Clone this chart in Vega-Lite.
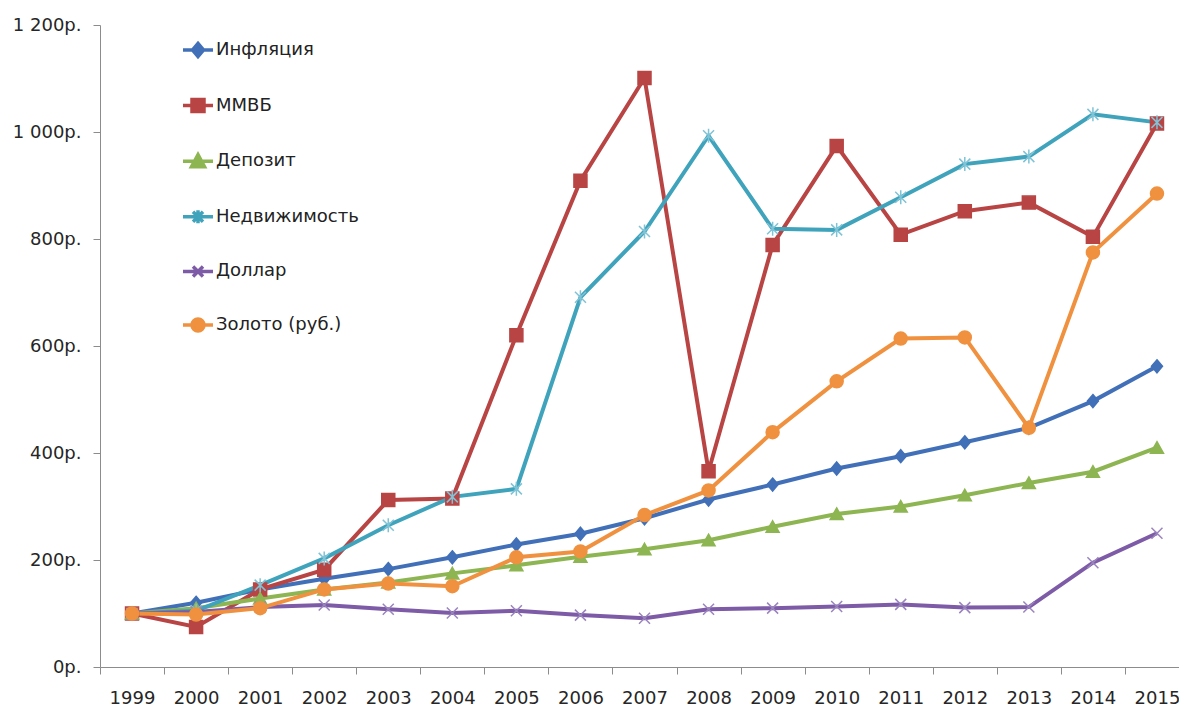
{
  "$schema": "https://vega.github.io/schema/vega-lite/v6.json",
  "autosize": "none",
  "width": 1079,
  "height": 642,
  "padding": {"left": 100, "top": 25, "right": 0, "bottom": 42},
  "background": "white",
  "config": {
    "view": {"stroke": null},
    "font": "DejaVu Sans",
    "axis": {"labelFont": "DejaVu Sans", "labelColor": "#262626", "labelFontSize": 18, "domainColor": "#8c8c8c", "tickColor": "#8c8c8c", "tickSize": 7, "grid": false, "title": null},
    "legend": {"labelFont": "DejaVu Sans", "labelFontSize": 18, "labelColor": "#222222"}
  },
  "data": {"values": [
    {"year": "1999", "series": "Инфляция", "value": 100},
    {"year": "2000", "series": "Инфляция", "value": 120},
    {"year": "2001", "series": "Инфляция", "value": 145},
    {"year": "2002", "series": "Инфляция", "value": 165},
    {"year": "2003", "series": "Инфляция", "value": 183},
    {"year": "2004", "series": "Инфляция", "value": 205},
    {"year": "2005", "series": "Инфляция", "value": 229},
    {"year": "2006", "series": "Инфляция", "value": 249},
    {"year": "2007", "series": "Инфляция", "value": 278},
    {"year": "2008", "series": "Инфляция", "value": 313},
    {"year": "2009", "series": "Инфляция", "value": 341},
    {"year": "2010", "series": "Инфляция", "value": 371},
    {"year": "2011", "series": "Инфляция", "value": 394},
    {"year": "2012", "series": "Инфляция", "value": 420},
    {"year": "2013", "series": "Инфляция", "value": 447},
    {"year": "2014", "series": "Инфляция", "value": 497},
    {"year": "2015", "series": "Инфляция", "value": 562},
    {"year": "1999", "series": "ММВБ", "value": 100},
    {"year": "2000", "series": "ММВБ", "value": 75},
    {"year": "2001", "series": "ММВБ", "value": 145},
    {"year": "2002", "series": "ММВБ", "value": 182},
    {"year": "2003", "series": "ММВБ", "value": 312},
    {"year": "2004", "series": "ММВБ", "value": 315},
    {"year": "2005", "series": "ММВБ", "value": 620},
    {"year": "2006", "series": "ММВБ", "value": 909},
    {"year": "2007", "series": "ММВБ", "value": 1101},
    {"year": "2008", "series": "ММВБ", "value": 366},
    {"year": "2009", "series": "ММВБ", "value": 789},
    {"year": "2010", "series": "ММВБ", "value": 974},
    {"year": "2011", "series": "ММВБ", "value": 808},
    {"year": "2012", "series": "ММВБ", "value": 852},
    {"year": "2013", "series": "ММВБ", "value": 868},
    {"year": "2014", "series": "ММВБ", "value": 804},
    {"year": "2015", "series": "ММВБ", "value": 1016},
    {"year": "1999", "series": "Депозит", "value": 100},
    {"year": "2000", "series": "Депозит", "value": 110},
    {"year": "2001", "series": "Депозит", "value": 128},
    {"year": "2002", "series": "Депозит", "value": 145},
    {"year": "2003", "series": "Депозит", "value": 158},
    {"year": "2004", "series": "Депозит", "value": 175},
    {"year": "2005", "series": "Депозит", "value": 190},
    {"year": "2006", "series": "Депозит", "value": 206},
    {"year": "2007", "series": "Депозит", "value": 220},
    {"year": "2008", "series": "Депозит", "value": 237},
    {"year": "2009", "series": "Депозит", "value": 262},
    {"year": "2010", "series": "Депозит", "value": 286},
    {"year": "2011", "series": "Депозит", "value": 300},
    {"year": "2012", "series": "Депозит", "value": 321},
    {"year": "2013", "series": "Депозит", "value": 344},
    {"year": "2014", "series": "Депозит", "value": 365},
    {"year": "2015", "series": "Депозит", "value": 410},
    {"year": "1999", "series": "Недвижимость", "value": 100},
    {"year": "2000", "series": "Недвижимость", "value": 105},
    {"year": "2001", "series": "Недвижимость", "value": 153},
    {"year": "2002", "series": "Недвижимость", "value": 203},
    {"year": "2003", "series": "Недвижимость", "value": 265},
    {"year": "2004", "series": "Недвижимость", "value": 318},
    {"year": "2005", "series": "Недвижимость", "value": 333},
    {"year": "2006", "series": "Недвижимость", "value": 691},
    {"year": "2007", "series": "Недвижимость", "value": 814},
    {"year": "2008", "series": "Недвижимость", "value": 993},
    {"year": "2009", "series": "Недвижимость", "value": 819},
    {"year": "2010", "series": "Недвижимость", "value": 817},
    {"year": "2011", "series": "Недвижимость", "value": 878},
    {"year": "2012", "series": "Недвижимость", "value": 940},
    {"year": "2013", "series": "Недвижимость", "value": 954},
    {"year": "2014", "series": "Недвижимость", "value": 1033},
    {"year": "2015", "series": "Недвижимость", "value": 1018},
    {"year": "1999", "series": "Доллар", "value": 100},
    {"year": "2000", "series": "Доллар", "value": 103},
    {"year": "2001", "series": "Доллар", "value": 112},
    {"year": "2002", "series": "Доллар", "value": 116},
    {"year": "2003", "series": "Доллар", "value": 108},
    {"year": "2004", "series": "Доллар", "value": 101},
    {"year": "2005", "series": "Доллар", "value": 105},
    {"year": "2006", "series": "Доллар", "value": 97},
    {"year": "2007", "series": "Доллар", "value": 91},
    {"year": "2008", "series": "Доллар", "value": 108},
    {"year": "2009", "series": "Доллар", "value": 110},
    {"year": "2010", "series": "Доллар", "value": 113},
    {"year": "2011", "series": "Доллар", "value": 117},
    {"year": "2012", "series": "Доллар", "value": 111},
    {"year": "2013", "series": "Доллар", "value": 112},
    {"year": "2014", "series": "Доллар", "value": 195},
    {"year": "2015", "series": "Доллар", "value": 250},
    {"year": "1999", "series": "Золото (руб.)", "value": 100},
    {"year": "2000", "series": "Золото (руб.)", "value": 98},
    {"year": "2001", "series": "Золото (руб.)", "value": 110},
    {"year": "2002", "series": "Золото (руб.)", "value": 145},
    {"year": "2003", "series": "Золото (руб.)", "value": 156},
    {"year": "2004", "series": "Золото (руб.)", "value": 151},
    {"year": "2005", "series": "Золото (руб.)", "value": 205},
    {"year": "2006", "series": "Золото (руб.)", "value": 216},
    {"year": "2007", "series": "Золото (руб.)", "value": 284},
    {"year": "2008", "series": "Золото (руб.)", "value": 330},
    {"year": "2009", "series": "Золото (руб.)", "value": 439},
    {"year": "2010", "series": "Золото (руб.)", "value": 534},
    {"year": "2011", "series": "Золото (руб.)", "value": 614},
    {"year": "2012", "series": "Золото (руб.)", "value": 616},
    {"year": "2013", "series": "Золото (руб.)", "value": 447},
    {"year": "2014", "series": "Золото (руб.)", "value": 775},
    {"year": "2015", "series": "Золото (руб.)", "value": 885}
  ]},
  "encoding": {
    "x": {
      "field": "year", "type": "ordinal",
      "scale": {"type": "band", "range": [0, 1089], "paddingInner": 0, "paddingOuter": 0},
      "axis": {"tickBand": "extent", "labelAngle": 0, "labelPadding": 15}
    },
    "y": {
      "field": "value", "type": "quantitative",
      "scale": {"domain": [0, 1200], "nice": false},
      "axis": {"values": [0, 200, 400, 600, 800, 1000, 1200], "labelPadding": 12, "labelExpr": "replace(format(datum.value, ',d'), ',', ' ') + 'р.'"}
    }
  },
  "resolve": {"scale": {"color": "independent", "stroke": "independent", "shape": "independent"}},
  "layer": [
    {
      "mark": {"type": "line", "strokeWidth": 4},
      "encoding": {
        "color": {"field": "series", "type": "nominal", "legend": null,
          "scale": {"domain": ["Инфляция", "ММВБ", "Депозит", "Недвижимость", "Доллар", "Золото (руб.)"],
                    "range": ["#4170b8", "#b84444", "#8db551", "#3fa3bc", "#7d5ba6", "#f0913f"]}}
      }
    },
    {
      "mark": {"type": "point", "filled": true, "opacity": 1, "size": 100, "strokeWidth": 1.5},
      "encoding": {
        "color": {"field": "series", "type": "nominal", "legend": null,
          "scale": {"domain": ["Инфляция", "ММВБ", "Депозит", "Недвижимость", "Доллар", "Золото (руб.)"],
                    "range": ["#4170b8", "#b84444", "#8db551", "#3fa3bc", "#7d5ba6", "#f0913f"]}},
        "stroke": {"field": "series", "type": "nominal", "legend": null,
          "scale": {"domain": ["Инфляция", "ММВБ", "Депозит", "Недвижимость", "Доллар", "Золото (руб.)"],
                    "range": ["#4170b8", "#b84444", "#8db551", "#7fc3d6", "#9a84bd", "#f0913f"]}},
        "shape": {"field": "series", "type": "nominal", "legend": null,
          "scale": {"domain": ["Инфляция", "ММВБ", "Депозит", "Недвижимость", "Доллар", "Золото (руб.)"],
                    "range": ["M0,-1.3L1.1,0L0,1.3L-1.1,0Z", "M-1.3,-1.3L1.3,-1.3L1.3,1.3L-1.3,1.3Z", "M0,-1.2L1.3,1.1L-1.3,1.1Z", "M-1.1,-1.1L1.1,1.1M-1.1,1.1L1.1,-1.1M0,-1.4L0,1.4", "M-1.1,-1.1L1.1,1.1M-1.1,1.1L1.1,-1.1", "M-1.3,0A1.3,1.3,0,1,0,1.3,0A1.3,1.3,0,1,0,-1.3,0Z"]}}
      }
    },
    {
      "transform": [{"filter": "datum.value < 0"}],
      "mark": {"type": "point", "filled": true, "opacity": 1, "size": 100, "strokeWidth": 3.5},
      "encoding": {
        "color": {"field": "series", "type": "nominal",
          "scale": {"domain": ["Инфляция", "ММВБ", "Депозит", "Недвижимость", "Доллар", "Золото (руб.)"],
                    "range": ["#4170b8", "#b84444", "#8db551", "#3fa3bc", "#7d5ba6", "#f0913f"]},
          "legend": {"title": null, "orient": "none", "legendX": 89, "legendY": 16, "direction": "vertical",
            "symbolSize": 100, "symbolStrokeWidth": 3.5, "symbolOpacity": 1, "rowPadding": 28.6, "labelOffset": 9}},
        "stroke": {"field": "series", "type": "nominal",
          "scale": {"domain": ["Инфляция", "ММВБ", "Депозит", "Недвижимость", "Доллар", "Золото (руб.)"],
                    "range": ["#4170b8", "#b84444", "#8db551", "#3fa3bc", "#7d5ba6", "#f0913f"]},
          "legend": {"title": null, "orient": "none", "legendX": 89, "legendY": 16, "direction": "vertical",
            "symbolSize": 100, "symbolStrokeWidth": 3.5, "symbolOpacity": 1, "rowPadding": 28.6, "labelOffset": 9}},
        "shape": {"field": "series", "type": "nominal",
          "scale": {"domain": ["Инфляция", "ММВБ", "Депозит", "Недвижимость", "Доллар", "Золото (руб.)"],
                    "range": ["M-3,0L3,0M0,-1.3L1.1,0L0,1.3L-1.1,0Z", "M-3,0L3,0M-1.2,-1.2L1.2,-1.2L1.2,1.2L-1.2,1.2Z", "M-3,0L3,0M0,-1.3L1.3,1.1L-1.3,1.1Z", "M-3,0L3,0M-1,-1L1,1M-1,1L1,-1M0,-1.3L0,1.3", "M-3,0L3,0M-1,-1L1,1M-1,1L1,-1", "M-3,0L3,0M-1.2,0A1.2,1.2,0,1,0,1.2,0A1.2,1.2,0,1,0,-1.2,0Z"]},
          "legend": {"title": null, "orient": "none", "legendX": 89, "legendY": 16, "direction": "vertical",
            "symbolSize": 100, "symbolStrokeWidth": 3.5, "symbolOpacity": 1, "rowPadding": 28.6, "labelOffset": 9}}
      }
    }
  ]
}
